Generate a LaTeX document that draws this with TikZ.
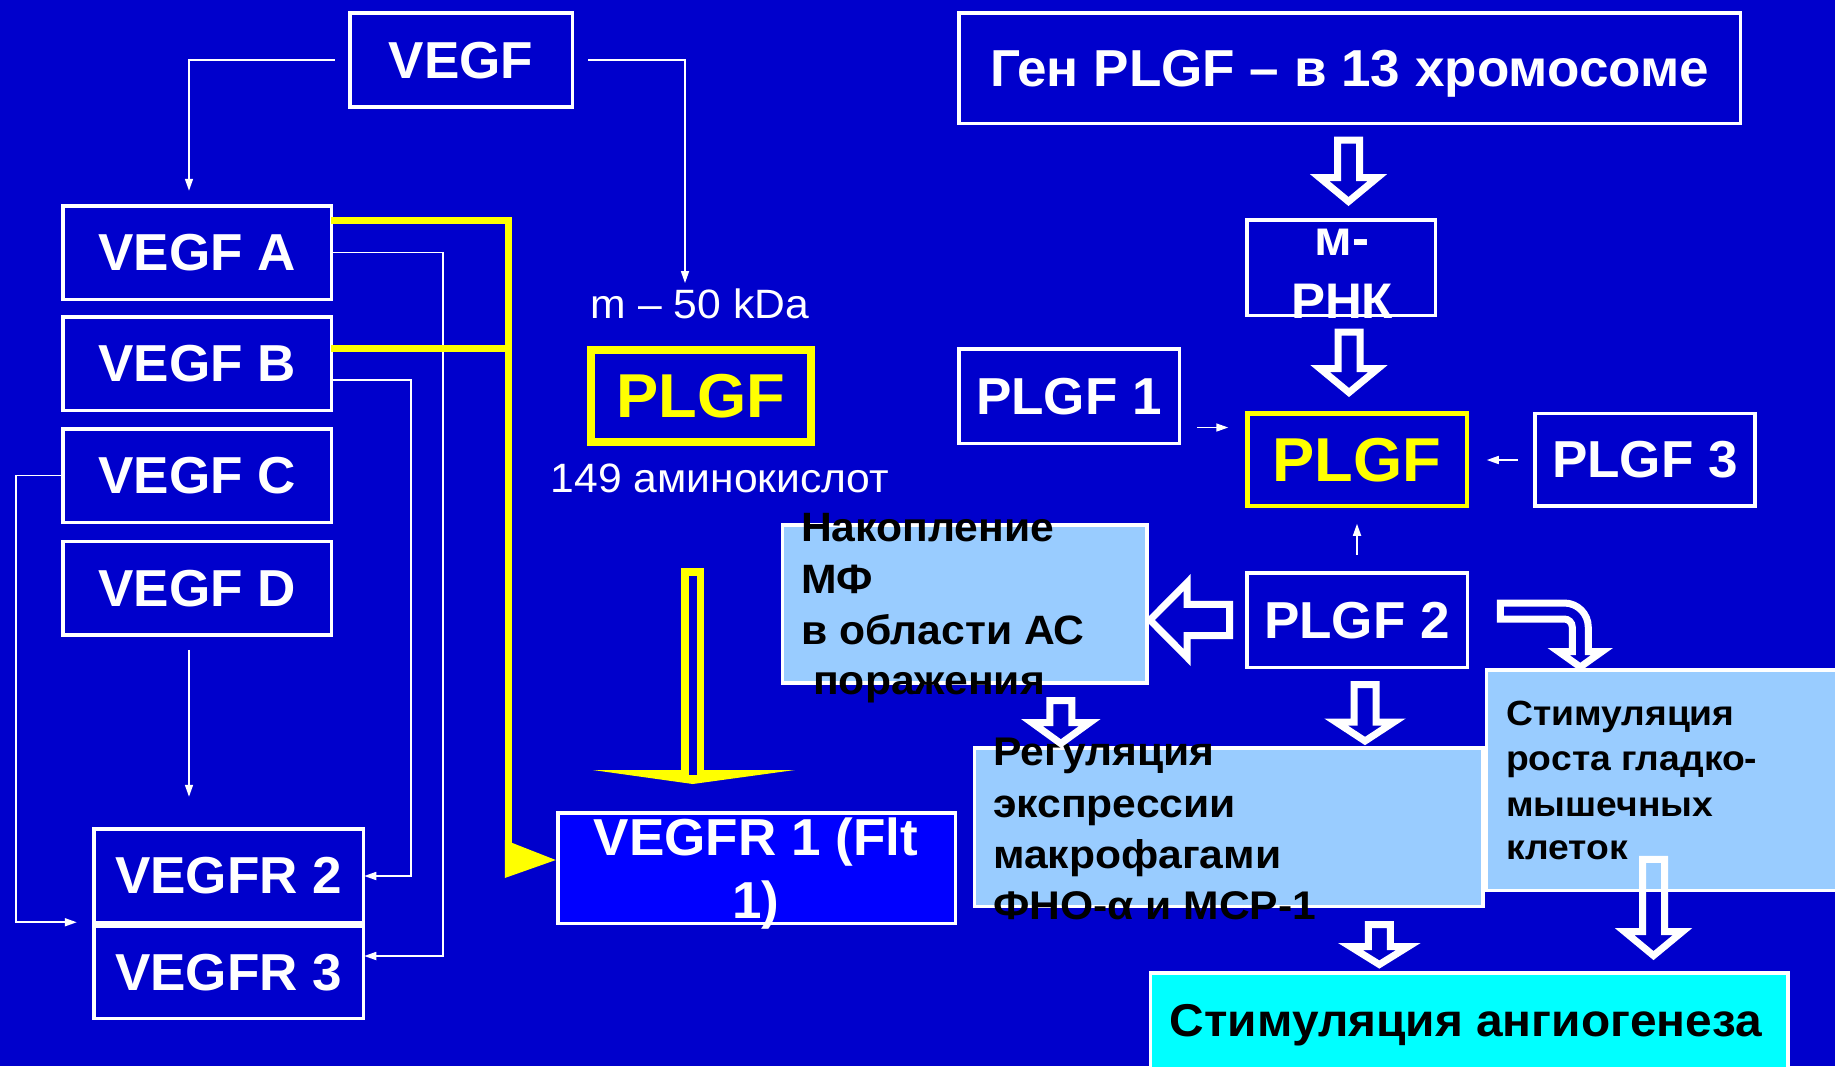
\documentclass[tikz,border=0pt]{standalone}
\usepackage{fontspec}
\setmainfont{Liberation Sans}
\newfontfamily\sA[FakeStretch=1.02]{Liberation Sans}
\newfontfamily\sB[FakeStretch=1.04]{Liberation Sans}
\newfontfamily\sC[FakeStretch=1.065]{Liberation Sans}
\usetikzlibrary{arrows.meta,calc}
\definecolor{bgblue}{RGB}{0,0,204}
\definecolor{vblue}{RGB}{0,0,255}
\definecolor{lblue}{RGB}{153,204,255}
\definecolor{cyanbox}{RGB}{0,255,255}
\definecolor{ylw}{RGB}{255,255,0}
\newcommand\fsz[1]{\fontsize{#1}{#1}\selectfont}
\tikzset{
 box/.style={draw=white, line width=3.5pt, inner sep=0pt, outer sep=0pt, text=white, font=\sA\bfseries\fsz{52}, text depth=0pt},
 ybox/.style={box, draw=ylw, text=ylw, font=\sA\bfseries\fsz{62}},
 pbox/.style={draw=white, line width=3.5pt, fill=lblue, inner sep=0pt, outer sep=0pt},
 blk/.style={text=black, font=\sB\bfseries\fsz{41}, anchor=base west, inner sep=0pt},
 wline/.style={text=white, font=\sA\bfseries\fsz{52}, anchor=base, inner sep=0pt},
 plain/.style={text=white, font=\sB\fsz{41}, anchor=base, inner sep=0pt},
 tarrow/.style={white, line width=1.6pt, -{Triangle[length=12pt,width=8pt]}},
 harrow/.style={draw=white, line width=7pt, line join=miter},
 yline/.style={ylw, line width=7pt, line join=miter},
 pics/hdown/.style args={#1/#2}{code={\draw[harrow] (-11,0) -- (-11,#1) -- (-29,#1) -- (0,#1+#2) -- (29,#1) -- (11,#1) -- (11,0) -- cycle;}}
}
\begin{document}
\begin{tikzpicture}[x=1pt,y=-1pt]
\fill[bgblue] (0,0) rectangle (1835,1066);
\useasboundingbox (0,0) rectangle (1835,1066);

% left column
\node[box, minimum width=222.5pt, minimum height=94pt] (vegf) at (461,60) {VEGF};
\node[box, minimum width=268.5pt, minimum height=93.5pt] (vegfA) at (197,252.5) {VEGF A};
\node[box, minimum width=268.5pt, minimum height=93.5pt] (vegfB) at (197,363.5) {VEGF B};
\node[box, minimum width=268.5pt, minimum height=93.5pt] (vegfC) at (197,475.5) {VEGF C};
\node[box, minimum width=268.5pt, minimum height=93.5pt] (vegfD) at (197,588) {VEGF D};
\node[box, minimum width=269.5pt, minimum height=93.5pt] (vegfr2) at (228.5,875.5) {VEGFR 2};
\node[box, minimum width=269.5pt, minimum height=92.5pt] (vegfr3) at (228.5,972) {VEGFR 3};
\node[box, fill=vblue, minimum width=397.5pt, minimum height=110.5pt] (vegfr1) at (756.5,868) {};
\node[wline] (v1a) at (756,855) {VEGFR 1 (Flt};
\node[wline] (v1b) at (756,918) {1)};

% middle
\node[plain] (mtxt) at (700,318) {m – 50 kDa};
\node[ybox, line width=8pt, minimum width=220.5pt, minimum height=92.5pt] (plgfL) at (700.75,396) {PLGF};
\node[plain] (aatxt) at (720,492) {149 аминокислот};

% right
\node[box, minimum width=781.5pt, minimum height=110.5pt] (gene) at (1349.5,68) {Ген PLGF – в 13 хромосоме};
\node[box, minimum width=188.5pt, minimum height=95.5pt] (mrna) at (1341,267.5) {};
\node[wline, font=\sA\bfseries\fsz{50}] (m1) at (1342,255) {м-};
\node[wline, font=\sA\bfseries\fsz{50}] (m2) at (1342,318) {РНК};
\node[box, minimum width=220.5pt, minimum height=94.5pt] (plgf1) at (1069,396) {PLGF 1};
\node[ybox, line width=4.5pt, minimum width=219.5pt, minimum height=92.5pt] (plgfR) at (1357,459.5) {PLGF};
\node[box, minimum width=220pt, minimum height=92.5pt] (plgf3) at (1645,459.5) {PLGF 3};
\node[box, minimum width=220.5pt, minimum height=94.5pt] (plgf2) at (1357,620) {PLGF 2};

\node[pbox, minimum width=364.5pt, minimum height=158pt] (nak) at (964.8,604) {};
\node[pbox, minimum width=508.5pt, minimum height=158.5pt] (reg) at (1228.75,827) {};
\node[pbox, minimum width=370pt, minimum height=220.5pt] (stim) at (1671.5,780) {};
\node[pbox, fill=cyanbox, minimum width=637.5pt, minimum height=117pt] (angio) at (1469.3,1031.4) {};

\node[blk] (n1) at (801,541) {Накопление};
\node[blk] (n2) at (801,593) {МФ};
\node[blk] (n3) at (801,644) {в области АС};
\node[blk] (n4) at (813,694) {поражения};
\node[blk, font=\sC\bfseries\fsz{40}] (r1) at (993,765.5) {Регуляция};
\node[blk, font=\sC\bfseries\fsz{40}] (r2) at (993,817.7) {экспрессии};
\node[blk, font=\sC\bfseries\fsz{40}] (r3) at (993,868) {макрофагами};
\node[blk, font=\sC\bfseries\fsz{40}] (r4) at (993,919) {ФНО-α и МСР-1};
\node[blk, font=\sC\bfseries\fsz{35}] (s1) at (1506,725.4) {Стимуляция};
\node[blk, font=\sC\bfseries\fsz{35}] (s2) at (1506,770.7) {роста гладко-};
\node[blk, font=\sC\bfseries\fsz{35}] (s3) at (1506,816) {мышечных};
\node[blk, font=\sC\bfseries\fsz{35}] (s4) at (1506,859.5) {клеток};
\node[blk, anchor=base, font=\sB\bfseries\fsz{46}] (angt) at (1466,1036) {Стимуляция ангиогенеза};

% thin white connectors
\draw[tarrow] ($(vegf.west)+(-15,0)$) -| ($(vegfA.north)+(-8,-15)$);
\draw[tarrow] ($(vegf.east)+(16,0)$) -| ($(mtxt.north)+(-15,-5)$);
\draw[tarrow] (vegfA.east) -- ++(112,0) |- ($(vegfr3.east)+(1,-16)$);
\draw[tarrow] (vegfB.east) ++(0,16.5) -- ++(80,0) |- ($(vegfr2.east)+(1,0.5)$);
\draw[tarrow] (vegfC.west) -- ++(-47,0) |- ($(vegfr2.south west)+(-17,0)$);
\draw[tarrow] ($(vegfD.south)+(-8,15)$) -- ($(vegfr2.north)+(-39.5,-32)$);
\draw[tarrow] ($(plgfR.west)+(-50,-32)$) -- ++(31,0);
\draw[tarrow] ($(plgf3.west)+(-17,0.5)$) -- ($(plgfR.east)+(20,0.5)$);
\draw[tarrow] ($(plgf2.north)+(0,-18)$) -- ($(plgfR.south)+(0,18)$);

% yellow connectors
\draw[yline] ($(vegfA.east)+(0,-32.5)$) -| ($(vegfr1.west)+(-49.5,-20)$);
\draw[yline] ($(vegfB.east)+(0,-15.5)$) -- ($(vegfB.east)+(177.5,-15.5)$);
\fill[ylw] ($(vegfr1.west)+(-53,-28)$) -- ($(vegfr1.west)+(-53,10)$) -- ($(vegfr1.west)+(-2,-8)$) -- cycle;

% yellow hollow arrow PLGF -> VEGFR1
\begin{scope}[shift={($(plgfL.south)+(-8,0)$)}]
\fill[ylw] (-100,327.75) -- (102,327.75) -- (0,341.75) -- cycle;
\fill[ylw] (-11.5,125.75) rectangle (11.5,331.75);
\fill[bgblue] (-4,133.75) rectangle (4,332.75);
\end{scope}

% hollow white arrows
\pic at ($(gene.south)+(-1,16.75)$) {hdown=37.5/24};
\pic at ($(mrna.south)+(8,16.75)$) {hdown=36.5/24};
\pic at ($(plgf2.south)+(8,17.25)$) {hdown=37.5/19};
\pic at ($(nak.south)+(96,17.5)$) {hdown=22/21};
\pic at ($(reg.south)+(150.6,18.25)$) {hdown=22/18};
\pic at ($(stim.south)+(-18,-31)$) {hdown=72.3/24};
\begin{scope}[shift={($(plgf2.west)+(-17.25,0)$)}]
\draw[harrow] (0,-15.7) -- (-42.3,-15.7) -- (-42.3,-37.5) -- (-79.5,0) -- (-42.3,37.5) -- (-42.3,15.7) -- (0,15.7) -- cycle;
\end{scope}
\begin{scope}[shift={(plgf2.east)}]
\draw[harrow] (33,-17) -- (97,-17) arc[start angle=270, end angle=360, radius=24] -- (121,31.5) -- (134.75,31.5) -- (113,47) -- (91.25,31.5) -- (105,31.5) -- (105,7) arc[start angle=360, end angle=270, radius=8] -- (33,-1) -- cycle;
\end{scope}
\end{tikzpicture}
\end{document}
